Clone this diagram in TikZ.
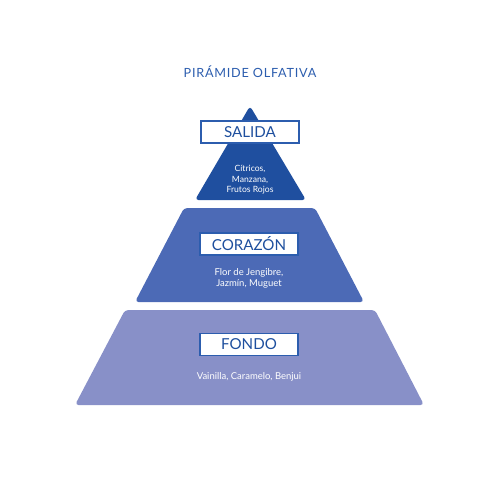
\documentclass[tikz,border=0pt]{standalone}
\usepackage{fontspec}
\setmainfont{Lato}
\newfontfamily\spacedfont[LetterSpace=6]{Lato}
\usepackage{tikz}
\usetikzlibrary{positioning}

\definecolor{tierone}{HTML}{1F4F9F}
\definecolor{tiertwo}{HTML}{4C6AB6}
\definecolor{tierthree}{HTML}{8890C8}
\definecolor{inkblue}{HTML}{1E4F9E}
\definecolor{titleblue}{HTML}{2C5DAE}

\begin{document}
\begin{tikzpicture}[
  x=0.02cm, y=-0.02cm,
  node distance=4pt,
  layer/.style={rounded corners=0.07cm},
  tag/.style={rectangle, draw=titleblue, line width=0.7pt, fill=white, text=inkblue,
    font=\fontsize{8.6}{10}\selectfont, minimum width=1.96cm, minimum height=0.44cm, inner sep=0pt},
  notes/.style={align=center, text=white, font=\fontsize{5.4}{6.6}\selectfont, inner sep=0pt}
]
\useasboundingbox (0,0) rectangle (500,500);

\node[text=titleblue, font=\spacedfont\fontsize{7.2}{9}\selectfont] (title) at (250,72) {PIRÁMIDE OLFATIVA};

% layers
\fill[tierone, layer] (250,106) -- (306,200) -- (195,200) -- cycle;
\fill[tiertwo, layer] (184,208) -- (315,208) -- (364,302) -- (135,302) -- cycle;
\fill[tierthree, layer] (125,310) -- (375,310) -- (424,405) -- (75,405) -- cycle;

% names
\node[tag] (salida) at (250,132) {SALIDA};
\node[tag] (corazon) at (249,244) {CORAZÓN};
\node[tag] (fondo) at (249,344.5) {FONDO};

% notes
\node[notes, font=\fontsize{4.9}{6.1}\selectfont, below=12pt of salida] (salidanotes) {Cítricos,\\Manzana,\\Frutos Rojos};
\node[notes, below=7pt of corazon] (corazonnotes) {Flor de Jengibre,\\Jazmín, Muguet};
\node[notes, below=9pt of fondo] (fondonotes) {Vainilla, Caramelo, Benjui};
\end{tikzpicture}
\end{document}
